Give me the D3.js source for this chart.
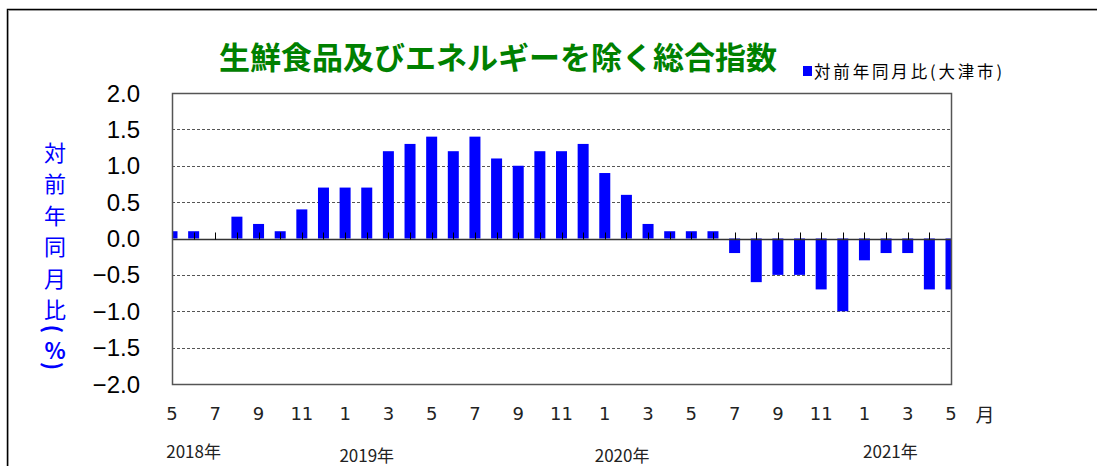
<!DOCTYPE html>
<head>
  <meta charset="utf-8">
  <style>
    body { margin: 0; background: #fff; }
    text { font-family: "Noto Sans CJK JP", "Liberation Sans", sans-serif; }
  </style>
  <script src="https://cdn.jsdelivr.net/npm/d3@7/dist/d3.min.js"></script>
</head>
<body>
  <script>
    // months 2018/5 .. 2021/5
    const months = [5,6,7,8,9,10,11,12, 1,2,3,4,5,6,7,8,9,10,11,12, 1,2,3,4,5,6,7,8,9,10,11,12, 1,2,3,4,5];
    const values = [0.1,0.1,0.0,0.3,0.2,0.1,0.4,0.7,
                    0.7,0.7,1.2,1.3,1.4,1.2,1.4,1.1,1.0,1.2,1.2,1.3,
                    0.9,0.6,0.2,0.1,0.1,0.1,-0.2,-0.6,-0.5,-0.5,-0.7,-1.0,
                    -0.3,-0.2,-0.2,-0.7,-0.7];
    const yTicks = [2.0,1.5,1.0,0.5,0.0,-0.5,-1.0,-1.5,-2.0];
    const years = [{label: '2018年', idx: 1, dy: 0}, {label: '2019年', idx: 9, dy: 4}, {label: '2020年', idx: 20.8, dy: 4}, {label: '2021年', idx: 33.2, dy: 0}];

    const w = 1097, h = 466;
    const pL = 172, pR = 951, pT = 93, pB = 384;

    const svg = d3.select('body').append('svg')
      .attr('width', w)
      .attr('height', h);

    // outer frame
    svg.append('path')
      .attr('d', `M7.5,${h} V9.5 H${w}`)
      .attr('fill', 'none')
      .attr('stroke', '#000')
      .attr('stroke-width', 1.5);
    svg.append('path')
      .attr('d', `M8.5,${h} V10.5 H${w}`)
      .attr('fill', 'none')
      .attr('stroke', '#999')
      .attr('stroke-width', 1);

    const x = d3.scaleLinear().domain([0, months.length - 1]).range([pL, pR]);
    const y = d3.scaleLinear().domain([-2, 2]).range([pB, pT]);
    const barW = 11;

    svg.append('clipPath').attr('id', 'clip')
      .append('rect').attr('x', pL).attr('y', pT).attr('width', pR - pL).attr('height', pB - pT);

    // gridlines
    svg.selectAll('.grid')
      .data(yTicks.filter(d => d !== 0 && Math.abs(d) !== 2))
      .enter().append('line')
      .attr('x1', pL).attr('x2', pR)
      .attr('y1', d => Math.round(y(d)) + 0.5).attr('y2', d => Math.round(y(d)) + 0.5)
      .attr('stroke', '#555')
      .attr('stroke-dasharray', '3,2');

    // bars
    svg.append('g').attr('clip-path', 'url(#clip)')
      .selectAll('rect')
      .data(values)
      .enter().append('rect')
      .attr('x', (d, i) => x(i) - barW / 2)
      .attr('y', d => y(Math.max(0, d)))
      .attr('width', barW)
      .attr('height', d => Math.abs(y(d) - y(0)))
      .attr('fill', '#0000ff');

    // zero line + month ticks
    const y0 = Math.round(y(0)) + 0.5;
    svg.append('line')
      .attr('x1', pL).attr('x2', pR)
      .attr('y1', y0).attr('y2', y0)
      .attr('stroke', '#333').attr('stroke-width', 1.5);
    svg.selectAll('.mtick')
      .data(months)
      .enter().append('line')
      .attr('x1', (d, i) => Math.round(x(i)) + 0.5)
      .attr('x2', (d, i) => Math.round(x(i)) + 0.5)
      .attr('y1', y0 - 7).attr('y2', y0)
      .attr('stroke', '#000');

    // plot border
    svg.append('rect')
      .attr('x', pL + 0.5).attr('y', pT + 0.5)
      .attr('width', pR - pL).attr('height', pB - pT)
      .attr('fill', 'none').attr('stroke', '#555').attr('stroke-width', 1.5);

    // y tick labels
    svg.selectAll('.ylab')
      .data(yTicks)
      .enter().append('text')
      .attr('x', 140)
      .attr('y', d => y(d) + 8.5)
      .attr('text-anchor', 'end')
      .style('font-family', '"Liberation Sans", Arial, sans-serif')
      .attr('font-size', '24px')
      .attr('fill', '#000')
      .text(d => d.toFixed(1).replace('-', '\u2212'));

    // month labels (every 2 months)
    svg.selectAll('.mlab')
      .data(months.map((m, i) => ({m, i})).filter(d => d.i % 2 === 0))
      .enter().append('text')
      .attr('x', d => x(d.i))
      .attr('y', 420)
      .attr('text-anchor', 'middle')
      .style('font-family', '"DejaVu Sans", sans-serif')
      .attr('font-size', '18px')
      .attr('fill', '#222')
      .text(d => d.m);

    svg.append('text')
      .attr('x', 985).attr('y', 422)
      .attr('text-anchor', 'middle')
      .attr('font-size', '19px')
      .attr('fill', '#222')
      .text('月');

    // year labels
    svg.selectAll('.ylabel')
      .data(years)
      .enter().append('text')
      .attr('x', d => x(d.idx))
      .attr('y', d => 458 + d.dy)
      .attr('text-anchor', 'middle')
      .attr('font-size', '17px')
      .attr('fill', '#222')
      .text(d => d.label);

    // y axis title (vertical)
    const yTitle = ['対', '前', '年', '同', '月', '比'];
    svg.selectAll('.ytitle')
      .data(yTitle)
      .enter().append('text')
      .attr('x', 55)
      .attr('y', (d, i) => 161 + i * 31.4)
      .attr('text-anchor', 'middle')
      .attr('font-size', '22px')
      .attr('fill', '#0000ff')
      .text(d => d);
    const yParen = [{t: '(', cy: 329, rot: true}, {t: '%', cy: 349, rot: false}, {t: ')', cy: 366, rot: true}];
    svg.selectAll('.yparen')
      .data(yParen)
      .enter().append('text')
      .attr('transform', d => `translate(55,${d.cy})` + (d.rot ? ' rotate(90)' : ''))
      .attr('text-anchor', 'middle')
      .attr('dominant-baseline', 'central')
      .attr('font-size', '22px')
      .attr('font-weight', 'bold')
      .attr('fill', '#0000ff')
      .text(d => d.t);

    // title
    svg.append('text')
      .attr('x', 498).attr('y', 69)
      .attr('text-anchor', 'middle')
      .attr('font-size', '31px')
      .attr('font-weight', 'bold')
      .attr('fill', '#008000')
      .text('生鮮食品及びエネルギーを除く総合指数');

    // legend
    svg.append('rect')
      .attr('x', 803).attr('y', 66)
      .attr('width', 9).attr('height', 10)
      .attr('fill', '#0000ff');
    svg.append('text')
      .attr('x', 814).attr('y', 78)
      .attr('font-size', '16.5px')
      .attr('textLength', 188)
      .attr('lengthAdjust', 'spacing')
      .attr('fill', '#000')
      .text('対前年同月比(大津市)');
  </script>
</body>
